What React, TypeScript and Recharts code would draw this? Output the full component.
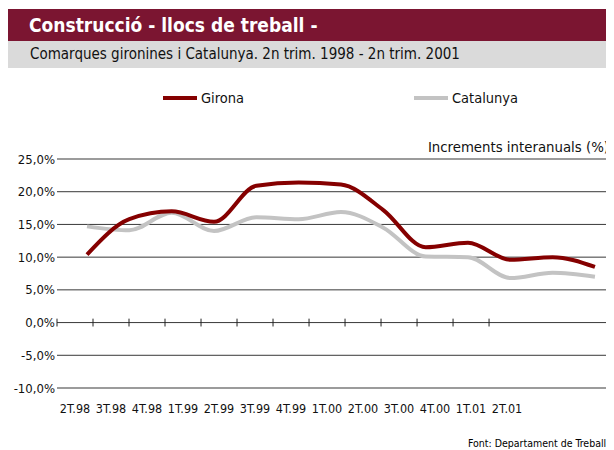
import React from 'react';
import { LineChart, Line, XAxis, YAxis, CartesianGrid, ReferenceLine } from 'recharts';

const quarters = ['2T.98', '3T.98', '4T.98', '1T.99', '2T.99', '3T.99', '4T.99', '1T.00', '2T.00', '3T.00', '4T.00', '1T.01', '2T.01'];
const girona = [10.4, 15.8, 17.0, 15.4, 20.9, 21.4, 21.1, 17.2, 11.5, 12.2, 9.6, 10.0, 8.5];
const catalunya = [14.7, 14.1, 16.8, 14.0, 16.1, 15.8, 16.9, 14.5, 10.1, 10.0, 6.8, 7.6, 7.0];
const yTicks = [-10, -5, 0, 5, 10, 15, 20, 25];

const FONT = "'DejaVu Sans Condensed', 'DejaVu Sans', sans-serif";
const MAROON = '#7b1531';
const RED = '#850000';
const GREY = '#c3c3c3';

const data = quarters.map((q, i) => ({ x: i, q, Girona: girona[i], Catalunya: catalunya[i] }));
const labelTicks = quarters.map((_, i) => i + 0.5);
const tickMarks = quarters.map((_, i) => i);

const fmtPct = (v: number) => `${v.toFixed(1).replace('.', ',')}%`;

const legendItems = [
  { name: 'Girona', color: RED, w: 251 },
  { name: 'Catalunya', color: GREY, w: 120 },
];

const App = () => {
  return (
    <div style={{ position: 'relative', width: 606, marginTop: 1, fontFamily: FONT }}>
      <div style={{ height: 32, background: MAROON, color: '#fff', fontWeight: 'bold', fontSize: 19, lineHeight: '32px', paddingLeft: 21, boxSizing: 'border-box' }}>
        Construcció - llocs de treball -
      </div>
      <div style={{ height: 27, background: '#dadada', color: '#111', fontSize: 15, lineHeight: '27px', paddingLeft: 22, boxSizing: 'border-box' }}>
        Comarques gironines i Catalunya. 2n trim. 1998 - 2n trim. 2001
      </div>
      <LineChart width={606} height={382} data={data} margin={{ top: 91, right: 0, bottom: 32, left: 0 }}>
        <CartesianGrid vertical={false} stroke="#222" strokeOpacity={0.9} />
        <XAxis xAxisId="pts" dataKey="x" type="number" domain={[-0.709, 12.45]} allowDataOverflow hide />
        <XAxis
          xAxisId="lbl"
          dataKey="x"
          type="number"
          domain={[0, 15.47]}
          allowDataOverflow
          ticks={labelTicks}
          interval={0}
          height={30}
          tickFormatter={(v: number) => quarters[Math.floor(v)]}
          axisLine={false}
          tickLine={false}
          tickSize={0}
          tickMargin={16}
          tick={{ fill: '#111', fontSize: 12.5, fontFamily: FONT }}
        />
        <YAxis
          domain={[-10, 25]}
          ticks={yTicks}
          interval={0}
          tickFormatter={fmtPct}
          axisLine={false}
          tickLine={false}
          tickSize={0}
          tickMargin={2}
          width={49}
          tick={{ fill: '#111', fontSize: 13, fontFamily: FONT }}
        />
        {tickMarks.map(k => (
          <ReferenceLine
            key={k}
            xAxisId="lbl"
            segment={[{ x: k, y: -0.6 }, { x: k, y: 0.6 }]}
            stroke="#222"
            strokeWidth={1}
            ifOverflow="visible"
          />
        ))}
        <Line xAxisId="pts" type="monotone" dataKey="Catalunya" stroke={GREY} strokeWidth={4} dot={false} isAnimationActive={false} />
        <Line xAxisId="pts" type="monotone" dataKey="Girona" stroke={RED} strokeWidth={4} dot={false} isAnimationActive={false} />
      </LineChart>
      <div style={{ position: 'absolute', top: 81, left: 155, display: 'flex', fontSize: 14.5, color: '#111' }}>
        {legendItems.map(it => (
          <div key={it.name} style={{ display: 'flex', alignItems: 'center', width: it.w }}>
            <span style={{ display: 'inline-block', width: 34, height: 4, background: it.color, marginRight: 4 }} />
            <span>{it.name}</span>
          </div>
        ))}
      </div>
      <div style={{ position: 'absolute', top: 129, right: 5, fontSize: 14.8, color: '#111', whiteSpace: 'nowrap' }}>
        Increments interanuals (%)
      </div>
      <div style={{ position: 'absolute', top: 428, left: 460, fontSize: 10.5, color: '#000', whiteSpace: 'nowrap' }}>
        Font: Departament de Treball
      </div>
    </div>
  );
};

export default App;
